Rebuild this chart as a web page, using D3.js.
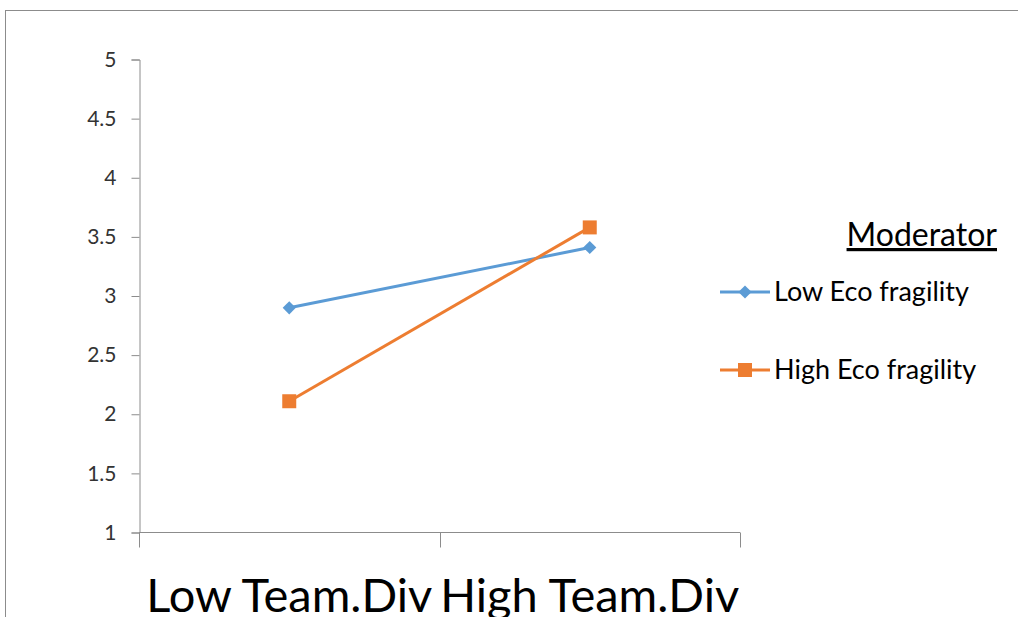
<!DOCTYPE html>
<html>
<head>
<meta charset="utf-8">
<script src="https://cdn.jsdelivr.net/npm/d3@7"></script>
<style>
  body { margin: 0; background: #fff; }
  svg { display: block; font-family: Lato, "Open Sans", sans-serif; }
</style>
</head>
<body>
<div id="chart"></div>
<script>
let categories = ['Low Team.Div', 'High Team.Div']
let lowEco = [2.9, 3.41]
let highEco = [2.11, 3.58]
let seriesNames = ['Low Eco fragility', 'High Eco fragility']
let yTicks = [1, 1.5, 2, 2.5, 3, 3.5, 4, 4.5, 5]
let legendTitle = 'Moderator'

let width = 1018
let height = 617
let axisColor = '#8c8c8c'
let colors = ['#5b9bd5', '#ed7d31']

let svg = d3.select('#chart')
  .append('svg')
    .attr('width', width)
    .attr('height', height)

// chart area border (runs off the right and bottom of the picture)
svg.append('rect')
  .attr('x', 5.5).attr('y', 10.5)
  .attr('width', 1100).attr('height', 700)
  .attr('fill', 'none')
  .attr('stroke', axisColor)

let x = d3.scalePoint().domain(categories).range([139, 740]).padding(0.5)
let y = d3.scaleLinear().domain([1, 5]).range([532.5, 59.5])

// y axis
let yAxis = svg.append('g')
  .attr('transform', 'translate(139.5,0)')
  .call(d3.axisLeft(y).tickValues(yTicks).tickSize(8).tickPadding(15).tickFormat(d3.format('')))
yAxis.select('.domain').attr('stroke', axisColor)
yAxis.selectAll('.tick line').attr('stroke', axisColor)
yAxis.selectAll('.tick text').attr('fill', '#333').attr('font-size', 21)
  .attr('font-family', 'Lato, sans-serif')

// x axis with ticks between categories
let step = x.step()
let boundaries = [0, 1, 2].map(i => 139 + i * step)
let xAxis = svg.append('g')
xAxis.append('line')
  .attr('x1', 139).attr('x2', 740)
  .attr('y1', y(1) ).attr('y2', y(1))
  .attr('stroke', axisColor)
xAxis.selectAll('.btick')
  .data(boundaries)
  .enter().append('line')
    .attr('x1', d => Math.round(d) + 0.5).attr('x2', d => Math.round(d) + 0.5)
    .attr('y1', y(1)).attr('y2', y(1) + 15)
    .attr('stroke', axisColor)
xAxis.selectAll('.cat')
  .data(categories)
  .enter().append('text')
    .attr('x', d => x(d))
    .attr('y', 612)
    .attr('text-anchor', 'middle')
    .attr('font-size', 47)
    .attr('fill', '#000')
    .text(d => d)

let series = [lowEco, highEco]
let line = d3.line().x((d, i) => x(categories[i])).y(d => y(d))

series.forEach((vals, s) => {
  svg.append('path')
    .attr('d', line(vals))
    .attr('fill', 'none')
    .attr('stroke', colors[s])
    .attr('stroke-width', 3)
})

let diamond = d3.symbol().type(d3.symbolDiamond2).size(110)
let square = d3.symbol().type(d3.symbolSquare).size(196)

svg.selectAll('.m0')
  .data(lowEco)
  .enter().append('path')
    .attr('d', diamond)
    .attr('transform', (d, i) => `translate(${x(categories[i])},${y(d)})`)
    .attr('fill', colors[0])
svg.selectAll('.m1')
  .data(highEco)
  .enter().append('path')
    .attr('d', square)
    .attr('transform', (d, i) => `translate(${x(categories[i])},${y(d)})`)
    .attr('fill', colors[1])

// legend
let legend = svg.append('g')
legend.append('text')
  .attr('x', 997).attr('y', 246)
  .attr('text-anchor', 'end')
  .attr('font-size', 32)
  .attr('fill', '#000')
  .attr('text-decoration', 'underline')
  .text(legendTitle)

let legendY = [292, 370]
seriesNames.forEach((name, s) => {
  let g = legend.append('g').attr('transform', `translate(0,${legendY[s]})`)
  g.append('line')
    .attr('x1', 720).attr('x2', 770)
    .attr('stroke', colors[s]).attr('stroke-width', 3)
  g.append('path')
    .attr('d', s === 0 ? diamond : square)
    .attr('transform', 'translate(745,0)')
    .attr('fill', colors[s])
  g.append('text')
    .attr('x', 774).attr('y', 9)
    .attr('font-size', 27)
    .attr('fill', '#000')
    .text(name)
})
</script>
</body>
</html>
